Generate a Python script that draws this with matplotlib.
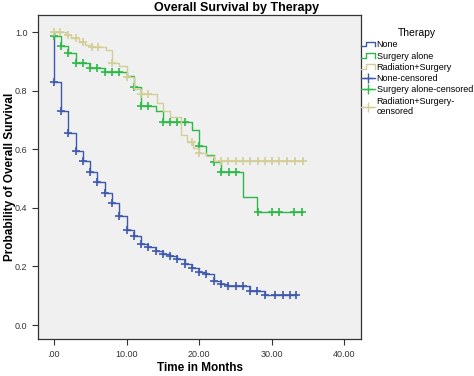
import numpy as np
import matplotlib
matplotlib.use("Agg")
import matplotlib.pyplot as plt
from matplotlib.lines import Line2D
from matplotlib.legend_handler import HandlerBase

plt.rcParams['font.family'] = ['Liberation Sans', 'DejaVu Sans']

# Kaplan-Meier steps (time in months, survival after step)
none_time = [0, 0, 1, 2, 3, 4, 5, 6, 7, 8, 9, 10, 11, 12, 13, 14, 15, 16, 17,
             18, 19, 20, 21, 22, 23, 24, 27, 29]
none_surv = [1.0, 0.83, 0.73, 0.655, 0.593, 0.56, 0.522, 0.489, 0.452, 0.418,
             0.372, 0.324, 0.305, 0.275, 0.267, 0.254, 0.241, 0.235, 0.225,
             0.207, 0.196, 0.181, 0.174, 0.150, 0.139, 0.133, 0.116, 0.102]
none_end = 33.3
none_cens = [0, 1, 2, 3, 4, 5, 6, 7, 8, 9, 10, 11, 12, 13, 14, 15, 16, 17, 18,
             19, 20, 21, 22, 23, 24, 25, 26, 27, 28, 29.1, 30.5, 31.5, 32.5, 33.3]

surg_time = [0, 0, 1, 2, 3, 5, 7, 10, 11, 12, 14, 15, 19, 20, 21, 22, 23, 26, 28]
surg_surv = [1.0, 0.985, 0.953, 0.928, 0.893, 0.878, 0.865, 0.85, 0.814, 0.748,
             0.730, 0.692, 0.667, 0.611, 0.582, 0.555, 0.522, 0.436, 0.387]
surg_end = 34.2
surg_cens = [0, 1, 2, 3, 4, 5, 6, 7, 8, 9, 11, 12, 13, 15, 16, 17, 18, 20, 22,
             23, 24.1, 25.1, 28.1, 30, 31, 33, 34.2]

rad_time = [0, 1.7, 2.4, 3.4, 4.3, 5.2, 7.2, 8, 9, 10, 11, 12, 14.2, 15, 16,
            17.5, 18.3, 19.1, 20, 21, 22]
rad_surv = [1.0, 0.99, 0.978, 0.967, 0.956, 0.948, 0.938, 0.895, 0.883, 0.848,
            0.805, 0.787, 0.757, 0.73, 0.711, 0.65, 0.626, 0.605, 0.588, 0.578, 0.56]
rad_end = 34.3
rad_cens = [0, 0.8, 2, 3, 4, 5.2, 6.1, 8, 10, 12, 13, 19, 20, 23, 24, 25.1, 26,
            27, 28.1, 29.1, 30, 31, 32.1, 33.2, 34.3]

labels = ['None', 'Surgery alone', 'Radiation+Surgery']
colors = ['#3E58AC', '#2EB848', '#D3CE97']
x_ticks = [0, 10, 20, 30, 40]
x_ticklabels = ['.00', '10.00', '20.00', '30.00', '40.00']
y_ticks = [0.0, 0.2, 0.4, 0.6, 0.8, 1.0]

groups = [(none_time, none_surv, none_end, none_cens),
          (surg_time, surg_surv, surg_end, surg_cens),
          (rad_time, rad_surv, rad_end, rad_cens)]


class StepHandler(HandlerBase):
    def create_artists(self, legend, orig_handle, xdescent, ydescent,
                       width, height, fontsize, trans):
        x0 = -xdescent
        xs = [x0, x0 + width * 0.35, x0 + width * 0.35, x0 + width, x0 + width]
        lo, hi = -ydescent + height * 0.15, -ydescent + height * 0.85
        ys = [lo, lo, hi, hi, lo]
        ln = Line2D(xs, ys, color=orig_handle.get_color(), lw=1.0, transform=trans)
        return [ln]


fig = plt.figure(figsize=(4.74, 3.76), dpi=100)
ax = fig.add_axes([0.080, 0.098, 0.682, 0.862])
ax.set_facecolor('#F0F0F0')

step_handles = []
cens_handles = []
for (t, s, end, cens), lab, col in zip(groups, labels, colors):
    t = np.array(t + [end], dtype=float)
    s = np.array(s + [s[-1]], dtype=float)
    h, = ax.step(t, s, where='post', color=col, lw=1.0, label=lab)
    idx = np.searchsorted(t, np.array(cens), side='right') - 1
    idx = np.clip(idx, 0, len(s) - 1)
    ax.plot(cens, s[idx], ls='none', marker='+', ms=6, mew=1.2, color=col)
    step_handles.append(h)
    cens_handles.append(Line2D([], [], color=col, lw=1.0, marker='+', ms=7, mew=1.0))

ax.set_xlim(-2.2, 42.3)
ax.set_ylim(-0.048, 1.058)
ax.set_xticks(x_ticks)
ax.set_xticklabels(x_ticklabels)
ax.set_yticks(y_ticks)
ax.set_yticklabels(['%.1f' % v for v in y_ticks])
ax.tick_params(labelsize=6.5, length=4, width=0.8, colors='#333333', labelcolor='#333333')
for sp in ax.spines.values():
    sp.set_color('#333333')
    sp.set_linewidth(0.9)

fig.suptitle('Overall Survival by Therapy', x=0.5, y=0.995, fontsize=9,
             fontweight='bold', va='top')
ax.set_xlabel('Time in Months', fontsize=8.5, fontweight='bold')
ax.xaxis.set_label_coords(0.5, -0.072)
ax.set_ylabel('Probability of Overall Survival', fontsize=8.5, fontweight='bold')
ax.yaxis.set_label_coords(-0.068, 0.5)

leg_labels = labels + ['None-censored', 'Surgery alone-censored', 'Radiation+Surgery-\ncensored']
handler_map = {h: StepHandler() for h in step_handles}
leg = ax.legend(step_handles + cens_handles, leg_labels, handler_map=handler_map,
                loc='upper left', bbox_to_anchor=(1.0, 0.96), frameon=False,
                fontsize=6.5, title='Therapy', title_fontsize=7.5,
                handlelength=1.5, handletextpad=0.2, labelspacing=0.25,
                borderaxespad=0, borderpad=0)

fig.savefig('out.png', dpi=100)
